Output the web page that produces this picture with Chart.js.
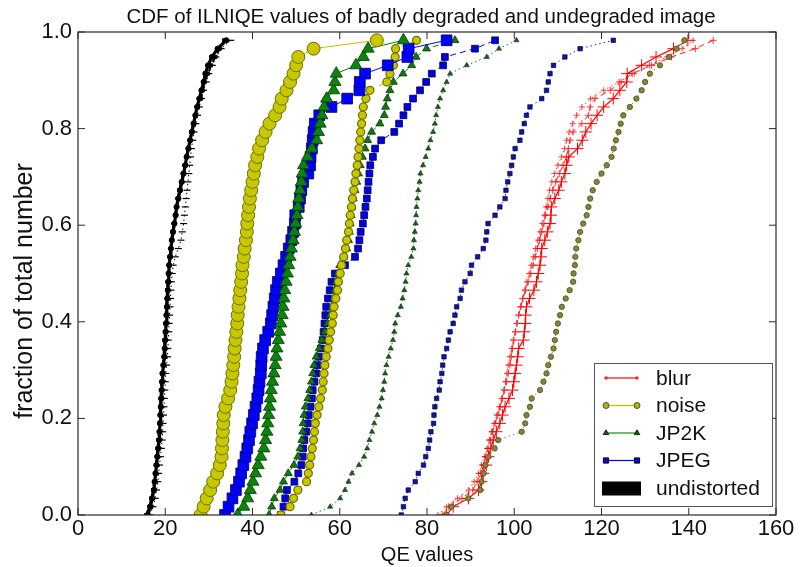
<!DOCTYPE html>
<html><head><meta charset="utf-8">
<script src="https://cdn.jsdelivr.net/npm/chart.js@4/dist/chart.umd.min.js"></script>
<style>html,body{margin:0;padding:0;background:#fff;}#wrap{width:804px;height:567px;}</style>
</head><body><div id="wrap"><canvas id="c" width="804" height="567"></canvas></div>
<script>
// CDF fractions (i/58)
const fractions = [0,0.0172,0.0345,0.0517,0.0690,0.0862,0.1034,0.1207,0.1379,0.1552,0.1724,0.1897,0.2069,0.2241,0.2414,0.2586,0.2759,0.2931,0.3103,0.3276,0.3448,0.3621,0.3793,0.3966,0.4138,0.4310,0.4483,0.4655,0.4828,0.5000,0.5172,0.5345,0.5517,0.5690,0.5862,0.6034,0.6207,0.6379,0.6552,0.6724,0.6897,0.7069,0.7241,0.7414,0.7586,0.7759,0.7931,0.8103,0.8276,0.8448,0.8621,0.8793,0.8966,0.9138,0.9310,0.9483,0.9655,0.9828];
const xTicks = [0,20,40,60,80,100,120,140,160];
const yTicks = [0,0.2,0.4,0.6,0.8,1.0];
const legendLabels = ['blur','noise','JP2K','JPEG','undistorted'];
const chartTitle = 'CDF of ILNIQE values of badly degraded and undegraded image';
const xTitle = 'QE values';
const yTitle = 'fraction of total number';

const blurSolid = [84.5,86.0,89.5,91.8,92.5,92.9,93.6,94.1,94.6,95.2,95.9,96.7,97.3,97.9,98.8,99.6,99.9,100.2,100.5,100.8,101.0,102.1,102.3,102.5,102.6,102.8,103.5,104.5,105.1,105.5,105.9,106.1,106.3,107.0,107.6,108.2,108.4,108.5,109.3,110.2,110.8,111.6,112.0,112.5,114.5,115.6,116.4,117.6,119.0,120.5,122.7,124.2,125.8,125.9,129.2,132.5,136.5,139.8];
const blurDashed = [83.5,85.0,88.0,90.5,91.5,92.3,93.0,93.5,94.0,94.5,95.0,95.6,96.2,96.8,97.3,97.8,98.2,98.6,99.0,99.3,99.6,99.9,100.3,100.6,101.0,101.5,102.0,102.6,103.2,103.8,104.3,104.8,105.3,105.8,106.3,106.8,107.2,107.7,108.2,108.8,109.5,110.3,111.2,112.0,112.4,112.8,113.5,115.5,117.0,117.4,118.5,122.0,124.5,127.0,131.5,136.0,141.5,145.6];
const blurDotted = [82.5,84.5,87.0,89.5,90.8,91.8,92.5,93.2,93.8,94.3,94.8,95.4,96.0,96.6,97.1,97.6,98.0,98.3,98.6,99.0,99.4,99.8,100.2,100.6,101.0,101.4,101.9,102.4,102.9,103.4,103.9,104.4,104.9,105.4,105.9,106.4,106.9,107.3,107.7,108.1,108.6,109.2,110.0,110.8,111.5,112.0,112.6,113.4,114.3,115.5,117.5,120.5,124.0,127.5,131.0,135.0,138.5,141.0];

const noiseSolid = [28.1,28.8,29.5,30.3,31.0,31.9,32.5,32.9,33.0,33.1,33.2,33.3,33.4,33.8,34.4,34.9,35.2,35.4,35.6,35.8,35.9,36.1,36.3,36.5,36.6,36.8,37.0,37.2,37.4,37.6,37.7,38.0,38.2,38.5,38.7,38.8,39.0,39.2,39.4,39.7,40.0,40.3,40.6,41.1,41.5,42.2,43.0,43.9,45.2,46.2,46.7,47.8,48.6,49.4,50.0,50.5,54.0,68.5];
const noiseDashed = [46.5,48.6,49.4,50.4,52.4,52.8,53.1,53.4,53.7,54.0,54.2,54.4,54.8,55.2,55.6,56.0,56.2,56.4,56.6,56.9,57.3,57.6,57.9,58.3,58.5,58.7,59.1,59.5,59.7,60.1,60.4,60.9,61.3,61.6,62.0,62.2,62.4,62.7,62.9,63.2,63.5,63.7,64.0,64.2,64.4,64.6,64.8,65.0,65.2,65.4,66.0,66.9,70.8,71.5,72.3,72.7,72.8,77.6];
const noiseDotted = [84.5,85.6,89.5,92.2,92.5,93.0,93.4,94.1,95.5,96.3,101.7,102.5,102.8,103.6,104.0,105.9,106.7,107.4,107.8,108.4,109.0,109.3,109.6,110.0,110.5,110.9,111.8,112.7,113.5,113.6,113.9,114.0,114.2,114.7,115.1,115.8,116.6,117.0,117.4,118.0,118.9,120.0,121.2,122.3,122.8,123.3,123.9,124.4,125.0,126.5,128.0,129.2,130.0,131.1,133.4,135.5,137.2,139.0];

const jp2kSolid = [36.6,38.0,38.9,39.5,40.1,40.7,41.3,41.9,42.6,43.0,43.3,43.5,43.7,43.9,44.1,44.3,44.6,44.9,45.2,45.4,45.6,45.9,46.2,46.5,46.8,47.0,47.2,47.4,47.7,48.0,48.3,48.6,48.9,49.3,49.6,49.9,50.2,50.4,50.6,50.9,51.2,51.4,51.7,52.6,53.6,54.7,55.1,55.5,55.9,56.4,57.0,58.6,58.9,59.2,63.7,65.4,66.5,74.6];
const jp2kDashed = [43.8,44.4,45.0,46.3,47.1,48.2,49.5,50.4,50.9,51.3,51.5,51.6,51.8,52.1,52.7,53.1,53.5,53.8,54.1,54.6,55.3,55.9,56.6,57.2,57.8,58.2,58.6,58.9,59.2,59.6,60.0,60.9,61.6,62.0,62.2,62.4,62.6,62.8,63.1,63.5,63.9,64.3,64.7,65.2,65.8,66.4,67.3,69.2,70.2,70.5,70.9,71.5,72.3,74.5,76.5,77.5,79.9,86.4];
const jp2kDotted = [53.5,57.8,60.1,61.2,62.0,62.8,64.4,65.6,66.3,66.8,67.4,67.9,68.6,69.1,69.6,69.9,70.2,70.4,70.7,71.2,71.7,72.2,72.5,72.7,73.3,74.0,74.4,74.8,75.1,75.3,75.7,76.4,76.9,77.0,77.2,77.4,77.5,77.6,77.8,78.0,78.3,78.5,79.1,79.7,80.3,80.8,81.4,81.8,82.1,82.5,83.0,83.7,84.5,85.3,89.1,93.7,96.5,100.5];

const jpegSolid = [33.7,34.5,35.4,36.2,36.9,37.4,37.9,38.4,38.8,39.2,39.5,39.9,40.3,40.7,41.1,41.4,41.6,41.9,42.0,42.1,42.4,42.9,43.6,44.2,44.5,44.8,45.1,45.4,45.8,46.5,47.1,47.7,48.3,48.9,49.3,49.7,49.8,50.6,50.9,51.2,51.6,52.8,53.2,53.3,53.6,53.8,54.0,54.3,55.3,58.1,61.7,64.5,64.6,65.8,71.0,75.5,75.8,84.5];
const jpegDashed = [46.5,47.1,47.5,47.9,49.6,50.5,51.2,51.5,51.6,51.9,52.3,52.7,52.9,53.3,53.6,53.8,54.2,54.6,54.9,55.2,55.7,56.1,56.3,56.5,56.7,56.9,57.3,57.7,58.1,58.9,61.2,63.5,64.2,64.5,64.8,65.3,65.6,65.9,66.2,66.4,66.6,66.8,67.0,67.6,68.1,69.5,72.5,73.6,74.6,75.5,76.8,78.4,79.8,81.1,83.7,84.1,91.0,95.6];
const jpegDotted = [74.1,74.6,75.0,75.7,77.3,78.0,79.2,79.7,80.3,80.6,80.9,81.5,81.6,81.8,82.2,82.8,83.0,83.4,83.6,83.9,84.5,84.9,85.3,86.0,86.4,86.8,87.6,87.9,88.7,89.9,90.2,91.6,92.9,93.5,93.7,94.0,95.6,96.7,97.9,98.1,98.5,99.0,99.4,99.8,100.2,101.3,101.7,102.3,102.8,103.6,106.3,107.4,107.8,108.2,109.0,111.6,115.1,122.7];

const undSolid = [16.0,16.6,17.0,17.4,17.6,17.8,18.0,18.2,18.4,18.6,18.7,18.8,18.9,19.0,19.1,19.2,19.3,19.4,19.6,19.8,19.9,20.0,20.1,20.2,20.3,20.4,20.5,20.6,20.7,20.8,20.9,21.1,21.3,21.5,21.8,22.1,22.4,22.6,23.0,23.4,23.8,24.2,24.6,24.9,25.3,25.7,26.1,26.5,26.9,27.3,27.8,28.3,28.8,29.2,29.8,30.7,32.0,34.0];
const undDashed = [16.5,17.2,17.7,18.0,18.3,18.5,18.7,18.9,19.1,19.3,19.4,19.5,19.6,19.7,19.8,19.9,20.0,20.1,20.3,20.5,20.6,20.7,20.8,20.9,21.0,21.1,21.2,21.3,21.4,21.6,21.8,22.3,23.0,23.6,23.9,24.2,24.4,24.6,24.8,25.0,25.2,25.4,25.6,25.8,26.0,26.3,26.6,27.0,27.4,27.8,28.3,28.8,29.4,30.0,30.8,31.6,32.8,35.0];
const undDotted = [15.6,16.3,16.8,17.2,17.4,17.6,17.8,18.0,18.2,18.4,18.5,18.6,18.7,18.8,18.9,19.0,19.1,19.2,19.4,19.6,19.7,19.8,19.9,20.0,20.1,20.2,20.3,20.4,20.5,20.6,20.8,21.0,21.2,21.4,21.6,21.9,22.2,22.5,22.8,23.2,23.6,24.0,24.4,24.8,25.2,25.6,26.0,26.4,26.9,27.5,28.2,28.6,29.0,29.8,30.5,31.5,32.5,33.5];

const FONT = "'Liberation Sans', Arial, sans-serif";
const SOLID = [], DASH = [6,4], DOT = [1.5,3];

function toPoints(xs) { return xs.map((v, i) => ({x: v, y: fractions[i]})); }
function ds(xs, line, dash, lw, style, r, fill, edge, ew) {
  return {
    data: toPoints(xs), showLine: true, borderColor: line, borderWidth: lw, borderDash: dash,
    pointStyle: style, pointRadius: r, pointBackgroundColor: fill, pointBorderColor: edge,
    pointBorderWidth: ew, fill: false, tension: 0
  };
}

const datasets = [
  ds(noiseSolid, '#c0c000', SOLID, 1, 'circle', 6.5, '#c8c800', '#6e6e00', 1),
  ds(jp2kSolid, '#008000', SOLID, 1, 'triangle', 7, '#0a840a', '#033a03', 0.8),
  ds(jpegSolid, '#0000ff', SOLID, 1, 'rect', 7.6, '#0000ff', '#00005a', 0.8),
  ds(undSolid, '#000000', SOLID, 3.2, 'circle', 2.6, '#000000', '#000000', 1),
  ds(undDashed, '#000000', DOT, 1, 'line', 3.5, '#000000', '#000000', 1.2),
  ds(undDotted, '#000000', DASH, 2, 'rect', 2.2, '#000000', '#000000', 1),
  ds(noiseDashed, '#c0c000', DASH, 1, 'circle', 4, '#c8c800', '#6e6e00', 1.2),
  ds(jp2kDashed, '#008000', DASH, 1, 'triangle', 4.6, '#157515', '#063a06', 0.8),
  ds(jpegDashed, '#0000ff', DASH, 1, 'rect', 4.8, '#0000e0', '#000050', 0.8),
  ds(jp2kDotted, '#2a6a2a', DOT, 1, 'triangle', 3, '#1f5a1f', '#0a300a', 0.6),
  ds(jpegDotted, '#2020c0', DOT, 1, 'rect', 3.2, '#14149a', '#000040', 0.6),
  ds(noiseDotted, '#8a8a40', DOT, 1, 'circle', 2.7, '#84843a', '#4e4e20', 0.8),
  ds(blurSolid, '#ff0000', SOLID, 1.2, 'cross', 6, '#ff0000', '#ff0000', 1),
  ds(blurDashed, '#ff2020', DASH, 1, 'cross', 3.5, '#ff3030', '#ff3030', 1),
  ds(blurDotted, '#ff3030', DOT, 1, 'cross', 3, '#ff4040', '#ff4040', 1)
];

function drawMarker(ctx, style, x, y, r, fill, edge) {
  ctx.save();
  ctx.fillStyle = fill; ctx.strokeStyle = edge; ctx.lineWidth = 1;
  ctx.beginPath();
  if (style === 'circle') { ctx.arc(x, y, r, 0, Math.PI * 2); ctx.fill(); ctx.stroke(); }
  else if (style === 'rect') { ctx.rect(x - r, y - r, 2 * r, 2 * r); ctx.fill(); ctx.stroke(); }
  else if (style === 'triangle') { ctx.moveTo(x, y - r); ctx.lineTo(x + r * 0.87, y + r * 0.5); ctx.lineTo(x - r * 0.87, y + r * 0.5); ctx.closePath(); ctx.fill(); ctx.stroke(); }
  else if (style === 'cross') { ctx.moveTo(x - r, y); ctx.lineTo(x + r, y); ctx.moveTo(x, y - r); ctx.lineTo(x, y + r); ctx.stroke(); }
  ctx.restore();
}

const frameTicks = {
  id: 'frameTicks',
  afterDatasetsDraw(chart) {
    const {ctx, chartArea: a, scales: {x, y}} = chart;
    ctx.save();
    ctx.strokeStyle = '#2a2a2a'; ctx.lineWidth = 1.2;
    ctx.strokeRect(a.left, a.top, a.right - a.left, a.bottom - a.top);
    const L = 7;
    ctx.lineWidth = 1;
    ctx.beginPath();
    x.ticks.forEach(t => {
      const px = x.getPixelForValue(t.value);
      ctx.moveTo(px, a.bottom); ctx.lineTo(px, a.bottom - L);
      ctx.moveTo(px, a.top); ctx.lineTo(px, a.top + L);
    });
    y.ticks.forEach(t => {
      const py = y.getPixelForValue(t.value);
      ctx.moveTo(a.left, py); ctx.lineTo(a.left + L, py);
      ctx.moveTo(a.right, py); ctx.lineTo(a.right - L, py);
    });
    ctx.stroke();
    ctx.fillStyle = '#111';
    ctx.textAlign = 'center'; ctx.textBaseline = 'middle';
    ctx.font = '20.5px ' + FONT;
    ctx.fillText(chartTitle, 421, 17);
    ctx.save();
    ctx.translate(25, 291);
    ctx.rotate(-Math.PI / 2);
    ctx.font = '25px ' + FONT;
    ctx.fillText(yTitle, 0, 0);
    ctx.restore();
    ctx.restore();
  }
};

const legendBox = {
  id: 'legendBox',
  afterDraw(chart) {
    const ctx = chart.ctx;
    const bx = 594, by = 363, bw = 178, bh = 143;
    ctx.save();
    ctx.fillStyle = '#ffffff'; ctx.fillRect(bx, by, bw, bh);
    ctx.strokeStyle = '#555555'; ctx.lineWidth = 1; ctx.strokeRect(bx + 0.5, by + 0.5, bw, bh);
    const rows = [378, 405.5, 433, 460.5, 488];
    const x0 = 606, x1 = 637;
    const specs = [
      {line: '#ff0000', style: 'cross', r: 2, fill: '#ff0000', edge: '#ff0000'},
      {line: '#c0c000', style: 'circle', r: 3, fill: '#b0b020', edge: '#55551a'},
      {line: '#1a8a1a', style: 'triangle', r: 3.2, fill: '#1a5a1a', edge: '#0a300a'},
      {line: '#0000ff', style: 'rect', r: 2.6, fill: '#1010a0', edge: '#000040'},
      null
    ];
    specs.forEach((s, i) => {
      const yy = rows[i];
      if (s) {
        ctx.strokeStyle = s.line; ctx.lineWidth = 1.2;
        ctx.beginPath(); ctx.moveTo(x0, yy); ctx.lineTo(x1, yy); ctx.stroke();
        drawMarker(ctx, s.style, x0, yy, s.r, s.fill, s.edge);
        drawMarker(ctx, s.style, x1, yy, s.r, s.fill, s.edge);
      } else {
        ctx.fillStyle = '#000'; ctx.fillRect(602, yy - 6.5, 39, 14);
      }
      ctx.fillStyle = '#111'; ctx.font = '21px ' + FONT;
      ctx.textBaseline = 'middle'; ctx.textAlign = 'left';
      ctx.fillText(legendLabels[i], 656, yy + 1);
    });
    ctx.restore();
  }
};

new Chart(document.getElementById('c'), {
  type: 'scatter',
  data: {datasets},
  plugins: [frameTicks, legendBox],
  options: {
    responsive: false, animation: false, devicePixelRatio: 1, events: [],
    layout: {padding: {top: 32, right: 28, bottom: 0, left: 0}},
    plugins: {legend: {display: false}, tooltip: {enabled: false}, title: {display: false}},
    scales: {
      x: {
        type: 'linear', min: 0, max: 160,
        afterBuildTicks: s => { s.ticks = xTicks.map(v => ({value: v})); },
        afterFit: s => { s.height = 52; },
        grid: {display: false, drawTicks: false}, border: {display: false},
        ticks: {font: {family: FONT, size: 22}, color: '#111', padding: 1, maxRotation: 0, autoSkip: false},
        title: {display: true, text: xTitle, font: {family: FONT, size: 20}, color: '#111', padding: {top: 0, bottom: 0}}
      },
      y: {
        type: 'linear', min: 0, max: 1,
        afterBuildTicks: s => { s.ticks = yTicks.map(v => ({value: v})); },
        afterFit: s => { s.width = 78; },
        grid: {display: false, drawTicks: false}, border: {display: false},
        ticks: {font: {family: FONT, size: 22}, color: '#111', padding: 6, callback: v => v.toFixed(1)},
        title: {display: false}
      }
    }
  }
});
</script>
</body></html>
